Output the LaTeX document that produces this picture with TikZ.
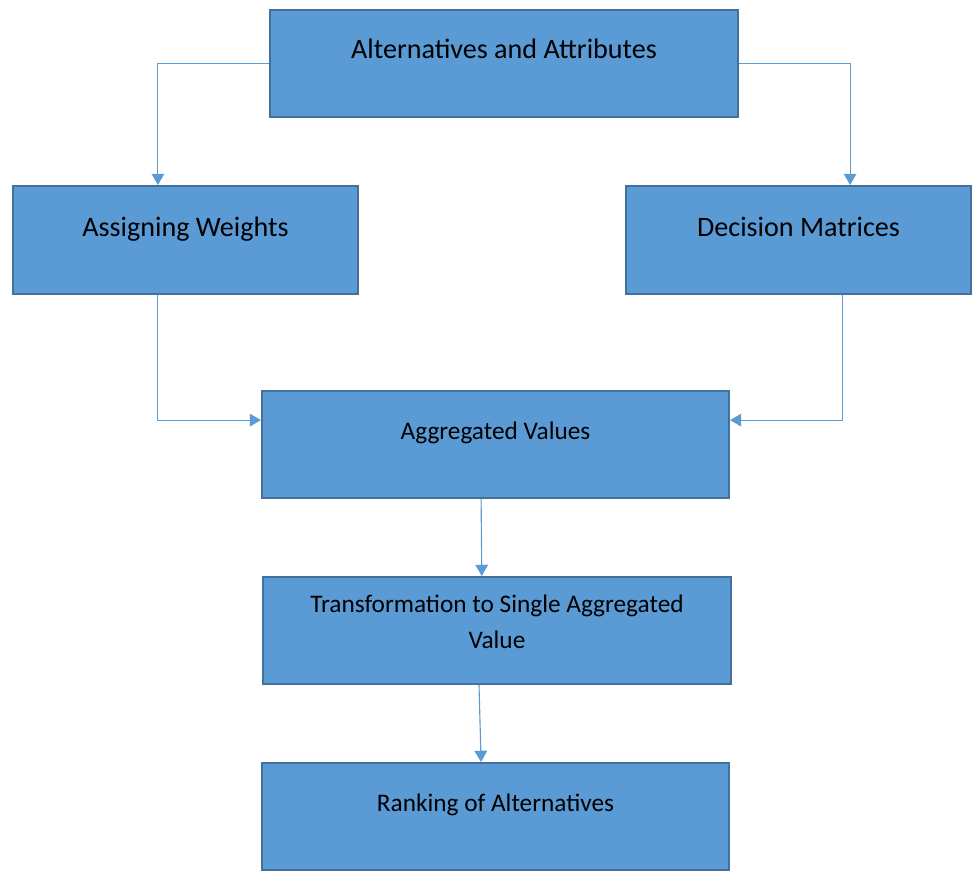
\documentclass[tikz,border=0pt]{standalone}
\usepackage{fontspec}
\setmainfont{Carlito}
\usetikzlibrary{arrows.meta}
\definecolor{boxblue}{HTML}{5B9BD5}
\definecolor{boxedge}{HTML}{41719C}
\begin{document}
\begin{tikzpicture}[-{Triangle[width=9pt,length=8pt]}]
    \tikzstyle{stage}=[rectangle,draw=boxedge,fill=boxblue,line width=1.4pt,minimum height=2.675cm,inner sep=0pt,text height=12pt,text depth=18.5pt]
    \tikzstyle{link}=[draw=boxblue,line width=0.8pt]
    \useasboundingbox (0,0) rectangle (24.3,-21.75);

    \node[stage,minimum width=11.7cm,font=\fontsize{20}{24}\selectfont] (alt) at (12.6,-1.5875) {Alternatives and Attributes};
    \node[stage,minimum width=8.625cm,minimum height=2.7cm,font=\fontsize{20}{24}\selectfont,text depth=17pt] (assign) at (4.6375,-6.0) {Assigning Weights};
    \node[stage,minimum width=8.625cm,minimum height=2.7cm,font=\fontsize{20}{24}\selectfont,text depth=17pt] (dec) at (19.9625,-6.0) {Decision Matrices};
    \node[stage,minimum width=11.675cm,font=\fontsize{18}{22}\selectfont] (agg) at (12.3875,-11.1125) {Aggregated Values};
    \node[stage,minimum width=11.7cm,font=\fontsize{18}{25}\selectfont,align=center,text height=37pt,text depth=12pt] (trans) at (12.425,-15.7625) {Transformation to Single Aggregated\\Value};
    \node[stage,minimum width=11.675cm,font=\fontsize{18}{22}\selectfont,text depth=19.5pt] (rank) at (12.3875,-20.4125) {Ranking of Alternatives};

    \draw[link] (alt.west) -| ([xshift=-0.69cm]assign.north);
    \draw[link] (alt.east) -| ([xshift=1.29cm]dec.north);
    \draw[link] ([xshift=-0.69cm]assign.south) |- ([yshift=0.61cm]agg.west);
    \draw[link] ([xshift=1.09cm]dec.south) |- ([yshift=0.61cm]agg.east);
    \draw[link] ([xshift=-0.36cm]agg.south) -- ([xshift=-0.38cm]trans.north);
    \draw[link] ([xshift=-0.45cm]trans.south) -- ([xshift=-0.36cm]rank.north);
\end{tikzpicture}
\end{document}
